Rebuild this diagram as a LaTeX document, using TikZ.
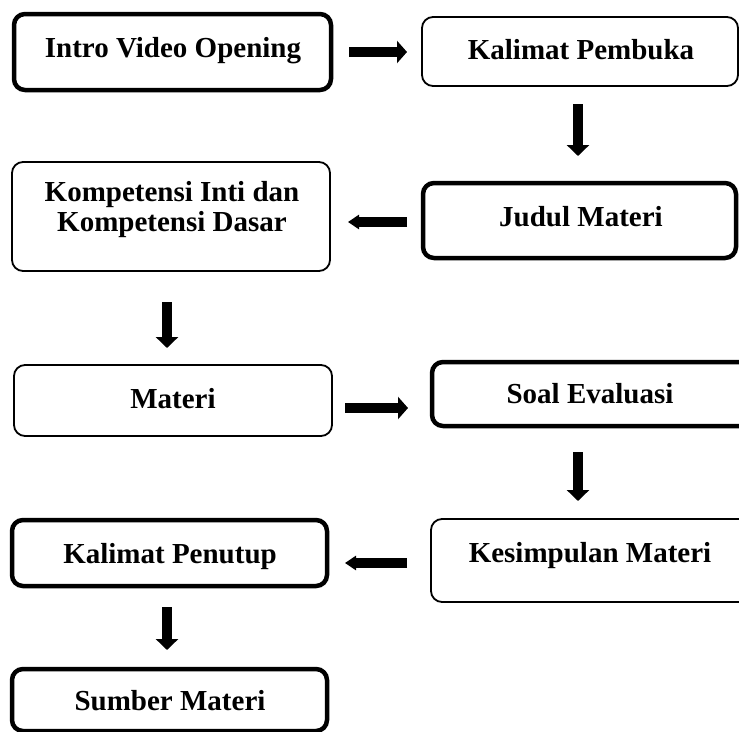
\documentclass[tikz,border=0pt]{standalone}
\usepackage{fontspec}
\setmainfont{Liberation Serif}
\usetikzlibrary{arrows.meta}
\begin{document}
\begin{tikzpicture}[x=1pt,y=-1pt,
  boxbase/.style={draw=black,rounded corners=11pt,inner sep=0pt,outer sep=0pt,fill=white},
  thickbox/.style={boxbase,line width=4.5pt},
  thinbox/.style={boxbase,line width=1.8pt},
  lbl/.style={anchor=base,inner sep=0pt,font=\bfseries\fontsize{29}{30}\selectfont},
  rarr/.style={line width=10pt,-{Triangle[width=22pt,length=10pt]}},
  darr/.style={line width=10pt,-{Triangle[width=22pt,length=11pt]}},
  larr/.style={line width=10pt,-{Triangle[width=14pt,length=11pt]}}]
\useasboundingbox (0,0) rectangle (739,731);
\clip (0,0) rectangle (739,731);
% boxes
\node[thickbox,minimum width=317pt,minimum height=76pt] (b1) at (172.5,52) {};
\node[thinbox,minimum width=316pt,minimum height=69pt] (b2) at (580,51.5) {};
\node[thinbox,minimum width=318pt,minimum height=109pt] (b3) at (171,216.5) {};
\node[thickbox,minimum width=313pt,minimum height=75pt] (b4) at (579.5,220.5) {};
\node[thinbox,minimum width=318pt,minimum height=71pt] (b5) at (173,400.5) {};
\node[thickbox,minimum width=328pt,minimum height=64pt] (b6) at (596,394) {};
\node[thinbox,minimum width=330pt,minimum height=83pt] (b7) at (596,560.5) {};
\node[thickbox,minimum width=315pt,minimum height=66pt] (b8) at (169.5,553) {};
\node[thickbox,minimum width=315pt,minimum height=62pt] (b9) at (169.5,700) {};
% labels
\node[lbl] (t1) at (173,57) {Intro Video Opening};
\node[lbl] (t2) at (581,59) {Kalimat Pembuka};
\node[lbl] (t3a) at (172,201.5) {Kompetensi Inti dan};
\node[lbl] (t3b) at (172,231) {Kompetensi Dasar};
\node[lbl] (t4) at (581,226) {Judul Materi};
\node[lbl] (t5) at (173,408) {Materi};
\node[lbl] (t6) at (590,403) {Soal Evaluasi};
\node[lbl] (t7) at (590,562) {Kesimpulan Materi};
\node[lbl] (t8) at (170,563) {Kalimat Penutup};
\node[lbl] (t9) at (170,710) {Sumber Materi};
% arrows
\draw[rarr,shorten <=18pt,shorten >=15pt] (b1.east) -- (b1.east -| b2.west);
\draw[darr,shorten <=18pt,shorten >=27pt] ([xshift=-2pt]b2.south) -- ([xshift=-2pt]b2.south |- b4.north);
\draw[larr,shorten <=16pt,shorten >=18pt] ([yshift=-1.5pt]b4.west) -- ([yshift=-1.5pt]b4.west -| b3.east);
\draw[darr,shorten <=31pt,shorten >=17pt] ([xshift=-4pt]b3.south) -- ([xshift=-4pt]b3.south |- b5.north);
\draw[rarr,shorten <=13pt,shorten >=24pt] ([yshift=-7.5pt]b5.east) -- ([yshift=-7.5pt]b5.east -| b6.west);
\draw[darr,shorten <=26pt,shorten >=18pt] ([xshift=-18pt]b6.south) -- ([xshift=-18pt]b6.south |- b7.north);
\draw[larr,shorten <=24pt,shorten >=18pt] ([yshift=-2.5pt]b7.west) -- ([yshift=-2.5pt]b7.west -| b8.east);
\draw[darr,shorten <=21pt,shorten >=19pt] ([xshift=-2.5pt]b8.south) -- ([xshift=-2.5pt]b8.south |- b9.north);
\end{tikzpicture}
\end{document}
